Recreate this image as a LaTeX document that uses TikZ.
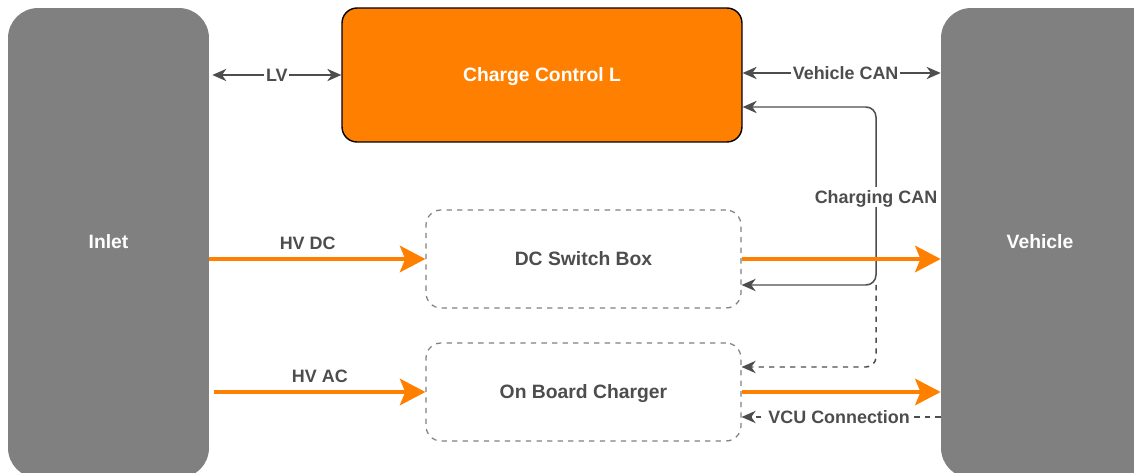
\documentclass[tikz,border=0pt]{standalone}
\usepackage{fontspec}
\setmainfont{Liberation Sans}
\usetikzlibrary{arrows.meta}
\definecolor{boxgray}{HTML}{808080}
\definecolor{txtgray}{HTML}{4D4D4D}
\definecolor{dashgray}{HTML}{808080}
\definecolor{orng}{HTML}{FF8000}
\tikzset{
  captxt/.style={text height=1.38ex,text depth=0pt},
  bigbox/.style={draw=none,fill=boxgray,rounded corners=0.6cm,inner sep=0pt},
  ctrlbox/.style={draw=black,line width=0.8pt,fill=orng,rounded corners=0.3cm,inner sep=0pt,captxt,
     minimum width=8cm,minimum height=2.68cm,text=white,font=\fontsize{11}{13}\selectfont\bfseries},
  dashbox/.style={draw=dashgray,dashed,line width=0.7pt,rounded corners=0.3cm,inner sep=0pt,captxt,
     minimum width=6.3cm,minimum height=1.96cm,text=txtgray,font=\fontsize{11}{13}\selectfont\bfseries},
  whitetxt/.style={captxt,text=white,font=\fontsize{11}{13}\selectfont\bfseries},
  lbl/.style={fill=white,text=txtgray,inner sep=2pt,captxt,font=\fontsize{10.2}{12}\selectfont\bfseries},
  hvlbl/.style={text=txtgray,font=\fontsize{10.2}{12}\selectfont\bfseries},
  garrow/.style={draw=txtgray,line width=0.85pt,-{Stealth[length=8pt,width=7pt,inset=2.5pt]}},
  gdarrow/.style={draw=txtgray,line width=0.85pt,{Stealth[length=8pt,width=7pt,inset=2.5pt]}-{Stealth[length=8pt,width=7pt,inset=2.5pt]}},
  oarrow/.style={draw=orng,line width=2.3pt,-{Stealth[length=14.5pt,width=15pt,inset=3pt]}},
}
\begin{document}
\begin{tikzpicture}[x=0.02cm,y=-0.02cm]
\useasboundingbox (0,0) rectangle (1134,473);
% big side boxes
\node[bigbox,minimum width=4.02cm,minimum height=9.4cm] (inlet) at (108.5,243) {};
\node[whitetxt] (inlettxt) at (108.5,242) {Inlet};
\node[bigbox,minimum width=4.8cm,minimum height=9.4cm] (veh) at (1061,243) {};
\node[whitetxt] (vehtxt) at (1040,242) {Vehicle};
% central boxes
\node[ctrlbox] (ccl) at (542,75) {Charge Control L};
\node[dashbox] (dcsb) at (583.5,259) {DC Switch Box};
\node[dashbox] (obc) at (583.5,392) {On Board Charger};
% LV
\draw[gdarrow] ([xshift=0.06cm]inlet.east |- ccl.west) -- (ccl.west)
  node[lbl,midway,inner xsep=1pt] {LV};
% Vehicle CAN
\draw[gdarrow] ([yshift=0.04cm]ccl.east) -- ([yshift=0.04cm]veh.west |- ccl.east)
  node[lbl,pos=0.52,inner xsep=1pt] {Vehicle CAN};
% Charging CAN
\coordinate (canTop) at (876,107);
\coordinate (canBot) at (876,285);
\draw[gdarrow,rounded corners=0.2cm] (ccl.east |- canTop) -- (canTop) -- (canBot) -- (dcsb.east |- canBot);
\node[lbl] (canlbl) at (876,197) {Charging CAN};
% dashed to OBC
\coordinate (dashCorner) at (876,367);
\draw[garrow,dashed,rounded corners=0.2cm] (canBot) -- (dashCorner) -- (obc.east |- dashCorner);
% VCU connection
\coordinate (vcuY) at (0,417);
\draw[garrow,dashed] (veh.west |- vcuY) -- (obc.east |- vcuY)
  node[lbl,pos=0.51,inner xsep=1pt,dash pattern=on 0pt off 0pt] {VCU Connection};
% HV arrows
\draw[oarrow] (inlet.east |- dcsb.west) -- (dcsb.west)
  node[pos=0.455,above=1pt,hvlbl] {HV DC};
\draw[oarrow] ([xshift=0.1cm]inlet.east |- obc.west) -- (obc.west)
  node[pos=0.5,above=1pt,hvlbl] {HV AC};
\draw[oarrow] (dcsb.east) -- (veh.west |- dcsb.east);
\draw[oarrow] (obc.east) -- (veh.west |- obc.east);
\end{tikzpicture}
\end{document}
